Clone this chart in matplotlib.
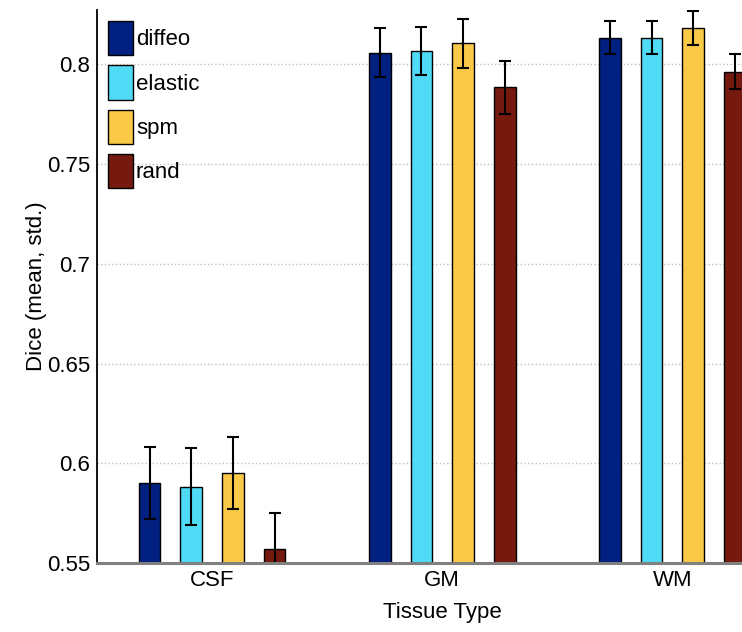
import matplotlib
matplotlib.use("Agg")
import matplotlib.pyplot as plt
import numpy as np

plt.rcParams['font.family'] = ['Liberation Sans', 'DejaVu Sans']

tissues = ['CSF', 'GM', 'WM']
methods = ['diffeo', 'elastic', 'spm', 'rand']
colors = ['#02207F', '#4FDBF6', '#F9C947', '#761A10']

# mean dice per method, one entry per tissue
means = {
    'diffeo':  [0.5904, 0.8057, 0.8132],
    'elastic': [0.5884, 0.8065, 0.8132],
    'spm':     [0.5951, 0.8104, 0.8180],
    'rand':    [0.5572, 0.7883, 0.7961],
}
stds = {
    'diffeo':  [0.0180, 0.0123, 0.0082],
    'elastic': [0.0192, 0.0118, 0.0082],
    'spm':     [0.0180, 0.0122, 0.0085],
    'rand':    [0.0180, 0.0134, 0.0088],
}
yticks = [0.55, 0.6, 0.65, 0.7, 0.75, 0.8]

fig = plt.figure(figsize=(7.42, 6.32), dpi=100)
# axes run past the right edge (the original is cropped)
ax = fig.add_axes([97/742, 68.7/632, 690.5/742, 553.3/632])

x = np.arange(1, len(tissues) + 1)
step = 0.181
width = 0.094
for i, m in enumerate(methods):
    pos = x + (i - 1.5) * step
    ax.bar(pos, np.array(means[m]) - 0.55, width, bottom=0.55, color=colors[i],
           edgecolor='black', linewidth=1.0, label=m, zorder=3)
    ax.errorbar(pos, means[m], yerr=stds[m], fmt='none', ecolor='black',
                elinewidth=1.5, capsize=4.5, capthick=1.5, zorder=4)

ax.set_xlim(0.5, 3.5)
ax.set_ylim(0.55, 0.827)
ax.set_yticks(yticks)
ax.set_yticklabels([str(t) for t in yticks], fontsize=16)
ax.set_xticks(x)
ax.set_xticklabels(tissues, fontsize=16)
ax.tick_params(length=0, pad=5)
ax.yaxis.grid(True, linestyle=':', color='#c0c0c0', linewidth=1.0, zorder=0)
ax.set_axisbelow(True)

for s in ['top', 'right']:
    ax.spines[s].set_visible(False)
ax.spines['left'].set_color('black')
ax.spines['left'].set_linewidth(1.3)
ax.spines['bottom'].set_color('#808080')
ax.spines['bottom'].set_linewidth(2.2)
ax.spines['bottom'].set_zorder(5)

ax.set_ylabel('Dice (mean, std.)', fontsize=16, labelpad=0)
ax.set_xlabel('Tissue Type', fontsize=16, labelpad=8)

ax.legend(loc='upper left', frameon=False, fontsize=16, handlelength=1.1,
          handleheight=2.0, handletextpad=0.15, labelspacing=0.45,
          borderaxespad=0.3, borderpad=0.2)

fig.savefig('out.png', dpi=100)
